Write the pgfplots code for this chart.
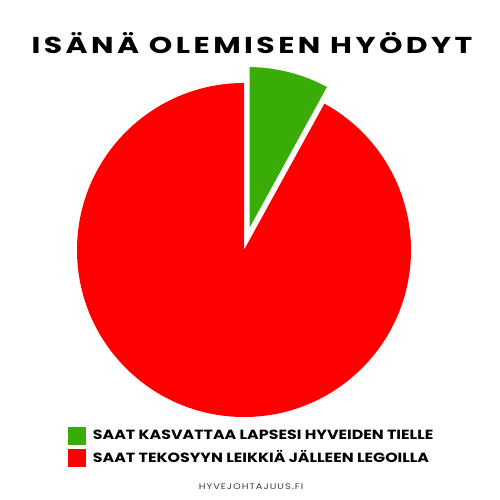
\documentclass[border=0pt]{standalone}
\usepackage{pgfplots}
\pgfplotsset{compat=1.18}
\usepackage{pgfplotstable}
\usepackage{fontspec}
\setmainfont{Poppins}
\newfontfamily\titlefont[FakeStretch=1.3, LetterSpace=15]{Poppins}
\newfontfamily\legfont[FakeStretch=1.19]{Poppins}
\newfontfamily\footfont[FakeStretch=1.2, LetterSpace=12]{Poppins}

\definecolor{piegreen}{RGB}{58,172,8}
\definecolor{piered}{RGB}{255,0,0}
\definecolor{footgray}{RGB}{60,60,60}

% share of each answer, in percent
\pgfplotstableread{
label value
kasvattaa 8
legot 92
}\piedata

\begin{document}
\begin{tikzpicture}
  \pgfplotstablegetelem{0}{value}\of\piedata
  \pgfmathsetmacro{\green}{\pgfplotsretval}
  \pgfmathsetmacro{\gstart}{90-3.6*\green}
  \pgfmathsetmacro{\rend}{360+\gstart}
  \pgfmathsetmacro{\mid}{90-1.8*\green}
  \begin{axis}[
    scale only axis,
    width=500pt, height=500pt,
    xmin=0, xmax=500, ymin=0, ymax=500,
    hide axis, clip=false,
    legend style={at={(axis cs:67.5,73.3)}, anchor=north west,
      draw=none, fill=none, inner sep=0pt, row sep=4pt,
      column sep=7.3pt,
      nodes={inner sep=0pt},
      font=\legfont\fontsize{13.3}{14}\selectfont\bfseries},
    legend cell align=left,
    legend image code/.code={\fill[#1] (0pt,-8.7pt) rectangle (17.5pt,8.7pt);},
  ]
    % red slice
    \fill[piered] (axis cs:244,250) -- ++(90:167pt)
      arc[start angle=90, end angle=\rend, radius=167pt] -- cycle;
    % green slice, pulled out
    \fill[piegreen, draw=white, line width=3pt, line join=miter]
      (axis cs:244,250) ++(\mid:17pt) coordinate (apex)
      (apex) -- ++(90:168pt)
      arc[start angle=90, end angle=\gstart, radius=168pt] -- cycle;

    \addlegendimage{piegreen}
    \addlegendentry{SAAT KASVATTAA LAPSESI HYVEIDEN TIELLE}
    \addlegendimage{piered}
    \addlegendentry{SAAT TEKOSYYN LEIKKIÄ JÄLLEEN LEGOILLA}

    \node[anchor=base, font=\titlefont\fontsize{23}{24}\selectfont\bfseries]
      at (axis cs:252,446.7) {ISÄNÄ OLEMISEN HYÖDYT};
    \node[anchor=base, text=footgray, font=\footfont\fontsize{8.2}{9}\selectfont]
      at (axis cs:251,10) {HYVEJOHTAJUUS.FI};
  \end{axis}
  \pgfresetboundingbox
  \path (0,0) rectangle (500pt,500pt);
\end{tikzpicture}
\end{document}
